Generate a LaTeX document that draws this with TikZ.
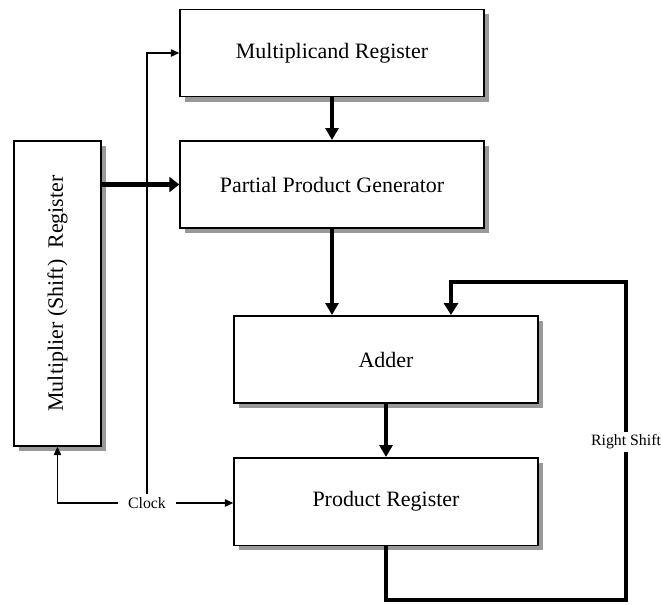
\documentclass[tikz,border=0pt]{standalone}
\usepackage{fontspec}
\usepackage{graphicx}
\setmainfont{Liberation Serif}
\usetikzlibrary{arrows.meta,shadows}

\begin{document}
\begin{tikzpicture}[x=0.02cm,y=-0.02cm,
  block/.style={draw,line width=0.85pt,fill=white,
    minimum width=6.08cm,minimum height=1.75cm,
    general shadow={fill=black!40,shadow xshift=0.1cm,shadow yshift=-0.1cm},
    font=\fontsize{12.5}{15}\selectfont},
  bus/.style={line width=2.3pt,-{Triangle[width=0.26cm,length=0.24cm]}},
  fatbus/.style={line width=3.4pt,-{Triangle[width=0.3cm,length=0.2cm]}},
  loopbus/.style={line width=2.8pt,-{Triangle[width=0.28cm,length=0.24cm]}},
  wire/.style={line width=0.7pt,-{Triangle[width=0.15cm,length=0.17cm]}},
  small/.style={font=\fontsize{9}{11}\selectfont,inner xsep=0.2cm,inner ysep=1.5pt}]
  \useasboundingbox (0,0) rectangle (661,604);

  \node[block] (mcand) at (332,53) {Multiplicand Register};
  \node[block] (ppg) at (332,184.5) {Partial Product Generator};
  \node[block,minimum width=1.74cm,minimum height=6.1cm] (mplier) at (57.5,293.5)
    {\rotatebox{90}{Multiplier (Shift)\ \ Register}};
  \node[block] (adder) at (386,359.5) {Adder};
  \node[block] (preg) at (386,501.5) {Product Register};

  \node[small] (clk) at (147,503) {Clock};
  \node[small,inner xsep=1pt] (rs) at (626,442) {Right Shift};
  \coordinate (turn) at (451,282);

  \draw[bus] (mcand.south) -- (ppg.north);
  \draw[fatbus] (mplier.east |- ppg.west) -- (ppg.west);
  \draw[bus] (ppg.south) -- (ppg.south |- adder.north);
  \draw[bus] (adder) -- (preg);

  \draw[line width=2.8pt] (preg.south) -- ++(0,54) -| (rs.south);
  \draw[loopbus] (rs.north) |- (turn) -- (turn |- adder.north);

  \draw[wire] (clk.west) -| (mplier.south);
  \draw[wire] (clk.east) -- (clk.east -| preg.west);
  \draw[wire] (clk.north) |- (mcand.west);
\end{tikzpicture}
\end{document}
